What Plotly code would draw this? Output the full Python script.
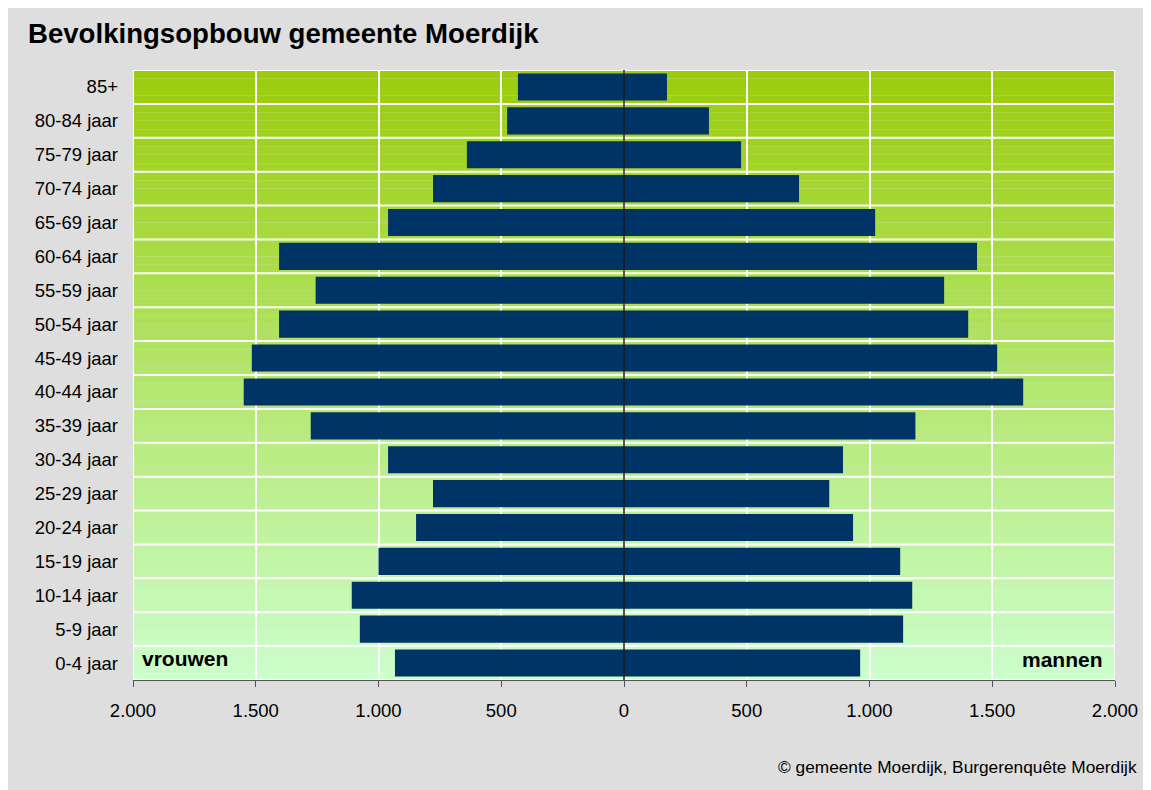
import plotly.graph_objects as go

# ---- data (bottom to top) ----
age_groups = ["0-4 jaar", "5-9 jaar", "10-14 jaar", "15-19 jaar", "20-24 jaar",
              "25-29 jaar", "30-34 jaar", "35-39 jaar", "40-44 jaar", "45-49 jaar",
              "50-54 jaar", "55-59 jaar", "60-64 jaar", "65-69 jaar", "70-74 jaar",
              "75-79 jaar", "80-84 jaar", "85+"]
vrouwen = [933, 1076, 1109, 1000, 847, 778, 961, 1276, 1549, 1516,
           1405, 1256, 1405, 961, 778, 640, 476, 432]
mannen = [962, 1137, 1174, 1125, 933, 836, 892, 1187, 1626, 1520,
          1402, 1304, 1438, 1023, 713, 477, 346, 175]
tick_values = [-2000, -1500, -1000, -500, 0, 500, 1000, 1500, 2000]
tick_labels = ["2.000", "1.500", "1.000", "500", "0", "500", "1.000", "1.500", "2.000"]

W, H = 1151, 790
OFF = 8  # page body margin
ML, MT = 133 - OFF, 70 - OFF
PR, PB = 1115 - OFF, 680.5 - OFF
MR, MB = W - PR, H - PB
PW, PH = W - ML - MR, H - MT - MB

bar_color = "#003366"
top_rgb = (154, 204, 10)
bot_rgb = (204, 255, 204)

fig = go.Figure()
fig.add_trace(go.Bar(y=age_groups, x=[-v for v in vrouwen], orientation="h",
                     marker=dict(color=bar_color, line=dict(width=0)),
                     customdata=vrouwen, hovertemplate="%{y}: %{customdata}<extra>vrouwen</extra>",
                     name="vrouwen"))
fig.add_trace(go.Bar(y=age_groups, x=mannen, orientation="h",
                     marker=dict(color=bar_color, line=dict(width=0)),
                     hovertemplate="%{y}: %{x}<extra>mannen</extra>", name="mannen"))


def px2paper_x(px):
    return (px - OFF - ML) / PW


def py2paper_y(py):
    return (H - MB - (py - OFF)) / PH


shapes = []
# gradient background
n = len(age_groups)
steps = n * 4
for i in range(steps):
    y0 = -0.5 + i * n / steps
    y1 = y0 + n / steps
    t = (i + 0.5) / steps  # 0 bottom -> 1 top
    c = tuple(round(bot_rgb[k] + (top_rgb[k] - bot_rgb[k]) * t) for k in range(3))
    shapes.append(dict(type="rect", xref="x", yref="y", layer="below",
                       x0=-2000, x1=2000, y0=y0, y1=y1,
                       fillcolor="rgb(%d,%d,%d)" % c, line=dict(width=0)))
# horizontal white separators
for k in range(n + 1):
    shapes.append(dict(type="line", xref="x", yref="y", layer="between",
                       x0=-2000, x1=2000, y0=k - 0.5, y1=k - 0.5,
                       line=dict(color="white", width=2)))
# left/right white border
for xv in (-2000, 2000):
    shapes.append(dict(type="line", xref="x", yref="y", layer="between",
                       x0=xv, x1=xv, y0=-0.5, y1=n - 0.5,
                       line=dict(color="white", width=2)))
# zero line over bars
shapes.append(dict(type="line", xref="x", yref="y", layer="above",
                   x0=0, x1=0, y0=-0.5, y1=n - 0.5,
                   line=dict(color="#1c1c1c", width=1.5)))

annotations = [
    dict(text="<b>Bevolkingsopbouw gemeente Moerdijk</b>", xref="paper", yref="paper",
         x=px2paper_x(26), y=py2paper_y(33), xanchor="left", yanchor="middle",
         showarrow=False, font=dict(family="Liberation Sans, Arial", size=27.6, color="black")),
    dict(text="<b>vrouwen</b>", xref="paper", yref="paper",
         x=px2paper_x(140), y=py2paper_y(659), xanchor="left", yanchor="middle",
         showarrow=False, font=dict(family="Liberation Sans, Arial", size=21, color="black")),
    dict(text="<b>mannen</b>", xref="paper", yref="paper",
         x=px2paper_x(1105), y=py2paper_y(660), xanchor="right", yanchor="middle",
         showarrow=False, font=dict(family="Liberation Sans, Arial", size=21, color="black")),
    dict(text="© gemeente Moerdijk, Burgerenquête Moerdijk", xref="paper", yref="paper",
         x=px2paper_x(1139), y=py2paper_y(768), xanchor="right", yanchor="middle",
         showarrow=False, font=dict(family="Liberation Sans, Arial", size=17.3, color="black")),
]

fig.update_layout(
    width=W, height=H,
    margin=dict(l=ML, r=MR, t=MT, b=MB, pad=0),
    paper_bgcolor="#DEDEDE", plot_bgcolor="rgba(0,0,0,0)",
    barmode="overlay", bargap=0.2, showlegend=False,
    font=dict(family="Liberation Sans, Arial", size=18.5, color="black"),
    shapes=shapes, annotations=annotations,
    xaxis=dict(range=[-2000, 2000], tickvals=tick_values, ticktext=tick_labels,
               showgrid=True, gridcolor="white", gridwidth=2, zeroline=False,
               showline=True, linecolor="#555555", linewidth=1,
               ticks="outside", ticklen=6, tickcolor="#555555", tickwidth=1,
               ticklabelstandoff=8, fixedrange=True),
    yaxis=dict(categoryorder="array", categoryarray=age_groups, range=[-0.5, n - 0.5],
               showgrid=False, zeroline=False, showline=False, ticks="",
               ticklabelstandoff=14, fixedrange=True),
)

fig.write_html("out.html")
